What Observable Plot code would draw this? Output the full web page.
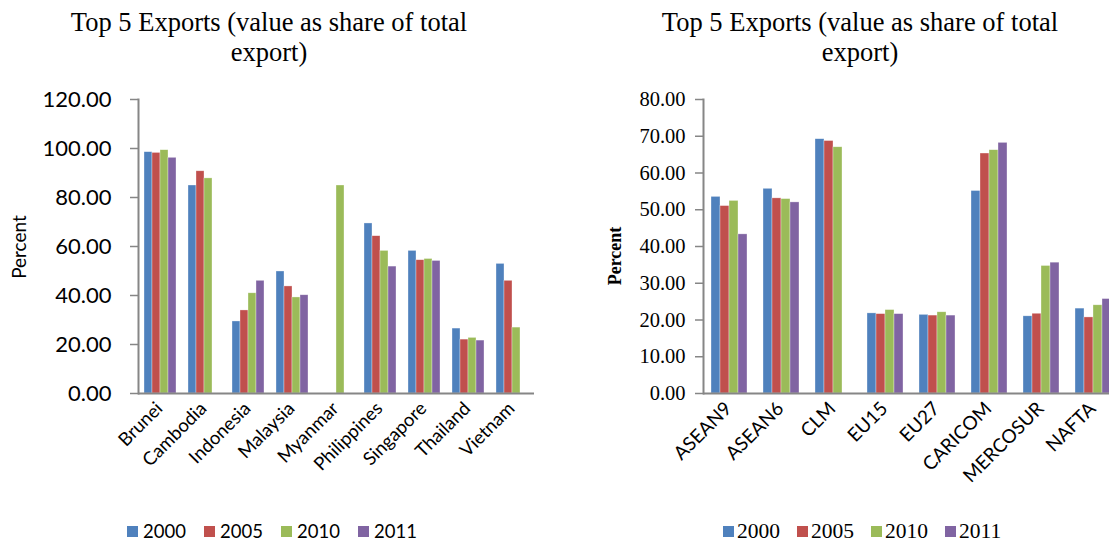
<!DOCTYPE html>
<html>
<head>
<meta charset="utf-8">
<script src="https://cdn.jsdelivr.net/npm/d3@7"></script>
<script src="https://cdn.jsdelivr.net/npm/@observablehq/plot@0.6"></script>
<style>
  html, body { margin: 0; padding: 0; width: 1109px; height: 542px; overflow: hidden; background: #fff; }
  .panel { position: absolute; top: 0; left: 0; width: 1109px; height: 542px; }
  .title { position: absolute; text-align: center; font-family: "Liberation Serif", "Times New Roman", serif; font-size: 26.5px; line-height: 30px; color: #000; }
  .ylab { position: absolute; transform: translate(-50%, -50%) rotate(-90deg); white-space: nowrap; color: #000; }
  .legend { position: absolute; display: flex; align-items: center; color: #000; white-space: nowrap; }
  .legend .item { display: flex; align-items: center; }
  .legend .sw { display: inline-block; width: 11px; height: 11px; }
  .chart { position: absolute; }
  .chart svg { max-width: none !important; }
</style>
</head>
<body>
<div id="left" class="panel"></div>
<div id="right" class="panel"></div>
<script>
const years = ["2000", "2005", "2010", "2011"];
const colors = ["#4F81BD", "#C0504D", "#9BBB59", "#8064A2"];

const leftCategories = ["Brunei", "Cambodia", "Indonesia", "Malaysia", "Myanmar", "Philippines", "Singapore", "Thailand", "Vietnam"];
const left2000 = [98.5, 84.9, 29.4, 49.8, null, 69.4, 58.2, 26.5, 52.9];
const left2005 = [98.2, 90.7, 33.9, 43.7, null, 64.2, 54.4, 22.0, 46.0];
const left2010 = [99.3, 87.8, 40.9, 39.2, 84.9, 58.2, 54.9, 22.7, 26.9];
const left2011 = [96.2, null, 46.0, 40.1, null, 51.8, 54.1, 21.6, null];
const leftTicks = [0, 20, 40, 60, 80, 100, 120];

const rightCategories = ["ASEAN9", "ASEAN6", "CLM", "EU15", "EU27", "CARICOM", "MERCOSUR", "NAFTA"];
const right2000 = [53.5, 55.7, 69.2, 21.8, 21.4, 55.1, 21.0, 23.1];
const right2005 = [51.0, 53.1, 68.7, 21.6, 21.2, 65.3, 21.7, 20.7];
const right2010 = [52.4, 52.9, 67.0, 22.7, 22.1, 66.2, 34.7, 24.0];
const right2011 = [43.3, 52.0, null, 21.6, 21.2, 68.2, 35.6, 25.7];
const rightTicks = [0, 10, 20, 30, 40, 50, 60, 70, 80];

const titleText = "Top 5 Exports (value as share of total export)";
const yLabel = "Percent";

function tidy(cats, series) {
  const rows = [];
  cats.forEach((c, i) => years.forEach((y, j) => {
    const v = series[j][i];
    if (v != null) rows.push({cat: c, year: y, value: v});
  }));
  return rows;
}

function chart(cats, series, ticks, o) {
  return Plot.plot({
    width: o.width, height: 413,
    marginLeft: o.marginLeft, marginRight: o.marginRight, marginTop: 19, marginBottom: 100,
    style: {fontFamily: o.font, fontSize: "16px", color: "#000", background: "transparent", overflow: "visible", maxWidth: "none"},
    fx: {domain: cats, padding: 0, label: null},
    x: {domain: years, paddingInner: 0, paddingOuter: o.outer, axis: null},
    y: {domain: [ticks[0], ticks[ticks.length - 1]], label: null},
    color: {domain: years, range: colors},
    marks: [
      Plot.barY(tidy(cats, series), {fx: "cat", x: "year", y: "value", fill: "year", stroke: "#ffffff", strokeOpacity: 0.55, strokeWidth: 0.6}),
      Plot.ruleY([0], {stroke: "#868686", strokeWidth: 2}),
      Plot.frame({anchor: "left", facetAnchor: "left", stroke: "#868686", strokeWidth: 2}),
      Plot.axisY({ticks: ticks, tickFormat: d => d.toFixed(2), tickSize: 8, tickPadding: o.tickPadding, stroke: "#868686", strokeWidth: 1.5, strokeOpacity: 1, label: null, fontFamily: o.yFont, fontSize: o.ySize, fill: "#000"}),
      Plot.axisFx({anchor: "bottom", tickRotate: -45, tickSize: 0, tickPadding: o.fxPad, dx: o.fxDx, label: null, fontFamily: o.font, fontSize: o.fxSize, fill: "#000"})
    ]
  });
}

function panel(id, o, cats, series, ticks) {
  const root = document.getElementById(id);
  const t = document.createElement("div");
  t.className = "title";
  t.style.left = o.titleLeft + "px"; t.style.top = "7px"; t.style.width = "420px";
  t.textContent = titleText;
  root.appendChild(t);

  const c = document.createElement("div");
  c.className = "chart";
  c.style.left = o.left + "px"; c.style.top = "80px"; c.style.width = o.width + "px";
  c.appendChild(chart(cats, series, ticks, o));
  root.appendChild(c);

  const yl = document.createElement("div");
  yl.className = "ylab";
  yl.style.left = o.ylabX + "px"; yl.style.top = o.ylabY + "px";
  yl.style.fontFamily = o.ylabFont; yl.style.fontSize = o.ylabSize; yl.style.fontWeight = o.ylabWeight;
  yl.textContent = yLabel;
  root.appendChild(yl);

  const lg = document.createElement("div");
  lg.className = "legend";
  lg.style.left = o.legLeft + "px"; lg.style.top = o.legTop + "px";
  lg.style.fontFamily = o.legFont; lg.style.fontSize = o.legSize;
  years.forEach((y, i) => {
    const it = document.createElement("span");
    it.className = "item";
    it.style.width = o.legStep + "px";
    const sw = document.createElement("span");
    sw.className = "sw"; sw.style.background = colors[i]; sw.style.marginRight = o.legGap + "px";
    it.appendChild(sw);
    it.appendChild(document.createTextNode(y));
    lg.appendChild(it);
  });
  root.appendChild(lg);
}

panel("left", {
  width: 544, marginLeft: 138, marginRight: 10, outer: 0.75, tickPadding: 19, fxPad: 12, fxDx: -1,
  left: 0, font: "Lato, 'Open Sans', sans-serif", yFont: "Lato, 'Open Sans', sans-serif", ySize: "22px", fxSize: "18.5px",
  titleLeft: 59,
  ylabX: 18, ylabY: 247, ylabFont: "Lato, sans-serif", ylabSize: "19px", ylabWeight: "normal",
  legLeft: 127, legTop: 520, legFont: "Lato, sans-serif", legSize: "18.5px", legStep: 77, legGap: 5
}, leftCategories, [left2000, left2005, left2010, left2011], leftTicks);

panel("right", {
  width: 521, marginLeft: 100, marginRight: 0, outer: 0.8, tickPadding: 10, fxPad: 12, fxDx: -1,
  left: 600, font: "Lato, 'Open Sans', sans-serif", yFont: "'Liberation Serif', 'Times New Roman', serif", ySize: "20.5px", fxSize: "19px",
  titleLeft: 650,
  ylabX: 615, ylabY: 256, ylabFont: "'Liberation Serif', serif", ylabSize: "18px", ylabWeight: "bold",
  legLeft: 723, legTop: 519, legFont: "'Liberation Serif', serif", legSize: "21.5px", legStep: 74, legGap: 3
}, rightCategories, [right2000, right2005, right2010, right2011], rightTicks);
</script>
</body>
</html>
